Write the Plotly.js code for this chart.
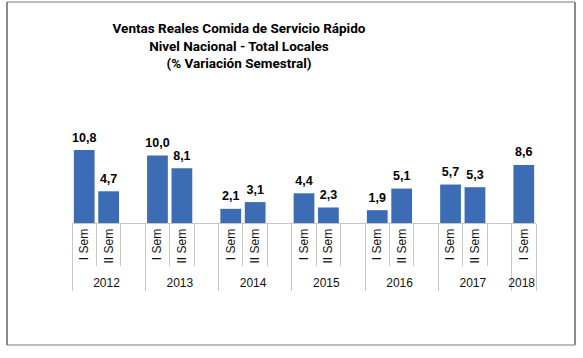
<!DOCTYPE html>
<html>
<head>
<meta charset="utf-8">
<script src="https://cdn.plot.ly/plotly-3.0.1.min.js"></script>
<style>html,body{margin:0;padding:0;background:#fff;}#chart{width:583px;height:358px;}</style>
</head>
<body>
<div id="chart"></div>
<script>
// Data
const years = ['2012','2012','2012','2013','2013','2013','2014','2014','2014','2015','2015','2015','2016','2016','2016','2017','2017','2017','2018'];
const semesters = ['I Sem','II Sem',' ','I Sem','II Sem',' ','I Sem','II Sem',' ','I Sem','II Sem',' ','I Sem','II Sem',' ','I Sem','II Sem',' ','I Sem'];
const values = [10.8, 4.7, null, 10.0, 8.1, null, 2.1, 3.1, null, 4.4, 2.3, null, 1.9, 5.1, null, 5.7, 5.3, null, 8.6];
const valueLabels = values.map(v => v === null ? '' : v.toFixed(1).replace('.', ','));

// Frame geometry (pixels -> paper)
const L = 72, R = 47, T = 115, B = 135, W = 583, H = 358;
const pw = W - L - R, ph = H - T - B;
const px = x => (x - L) / pw;
const py = y => (H - B - y) / ph;
const fx0 = px(7), fx1 = px(575), fy0 = py(345), fy1 = py(2);

const bars = {
  type: 'bar',
  x: [years, semesters],
  y: values,
  width: 0.85,
  marker: {color: '#3C6CB4'},
  hoverinfo: 'skip'
};

const labelsTrace = {
  type: 'scatter',
  mode: 'markers+text',
  x: [years, semesters],
  y: values,
  text: valueLabels,
  textposition: 'top center',
  marker: {size: 7, color: 'rgba(0,0,0,0)'},
  cliponaxis: false,
  textfont: {family: 'Liberation Sans, Arial, sans-serif', size: 12.5, color: '#000', weight: 'bold'},
  hoverinfo: 'skip'
};

const layout = {
  width: W, height: H,
  margin: {l: L, r: R, t: T, b: B},
  paper_bgcolor: '#fff',
  plot_bgcolor: '#fff',
  showlegend: false,
  title: {
    text: '<b>Ventas Reales Comida de Servicio Rápido<br>Nivel Nacional - Total Locales<br>(% Variación Semestral)</b>',
    x: 239 / W, xanchor: 'center', xref: 'container',
    y: 1 - 33 / H, yanchor: 'top', yref: 'container',
    font: {family: 'Roboto, Liberation Sans, Arial, sans-serif', size: 13.5, color: '#000'}
  },
  xaxis: {
    type: 'multicategory',
    range: [-0.5, 18.5],
    tickangle: -90,
    tickson: 'boundaries',
    ticks: 'outside',
    ticklen: 42,
    tickcolor: '#c8c8c8',
    showline: true,
    linecolor: '#c8c8c8',
    showdividers: true,
    dividercolor: '#c8c8c8',
    dividerwidth: 1,
    tickfont: {family: 'Liberation Sans, Arial, sans-serif', size: 12, color: '#111'},
    showgrid: false,
    zeroline: false,
    fixedrange: true
  },
  yaxis: {
    range: [0, 16],
    visible: false,
    fixedrange: true
  },
  bargap: 0.15,
  shapes: [
    {type: 'line', xref: 'paper', yref: 'paper', x0: fx0, x1: fx1, y0: fy1, y1: fy1, line: {color: '#bdbdbd', width: 2}},
    {type: 'line', xref: 'paper', yref: 'paper', x0: fx0, x1: fx1, y0: fy0, y1: fy0, line: {color: '#bdbdbd', width: 2}},
    {type: 'line', xref: 'paper', yref: 'paper', x0: fx0, x1: fx0, y0: fy0, y1: fy1, line: {color: '#666666', width: 1.5}},
    {type: 'line', xref: 'paper', yref: 'paper', x0: fx1, x1: fx1, y0: fy0, y1: fy1, line: {color: '#8a8a8a', width: 2}}
  ]
};

Plotly.newPlot('chart', [bars, labelsTrace], layout, {displayModeBar: false, staticPlot: true});
</script>
</body>
</html>
